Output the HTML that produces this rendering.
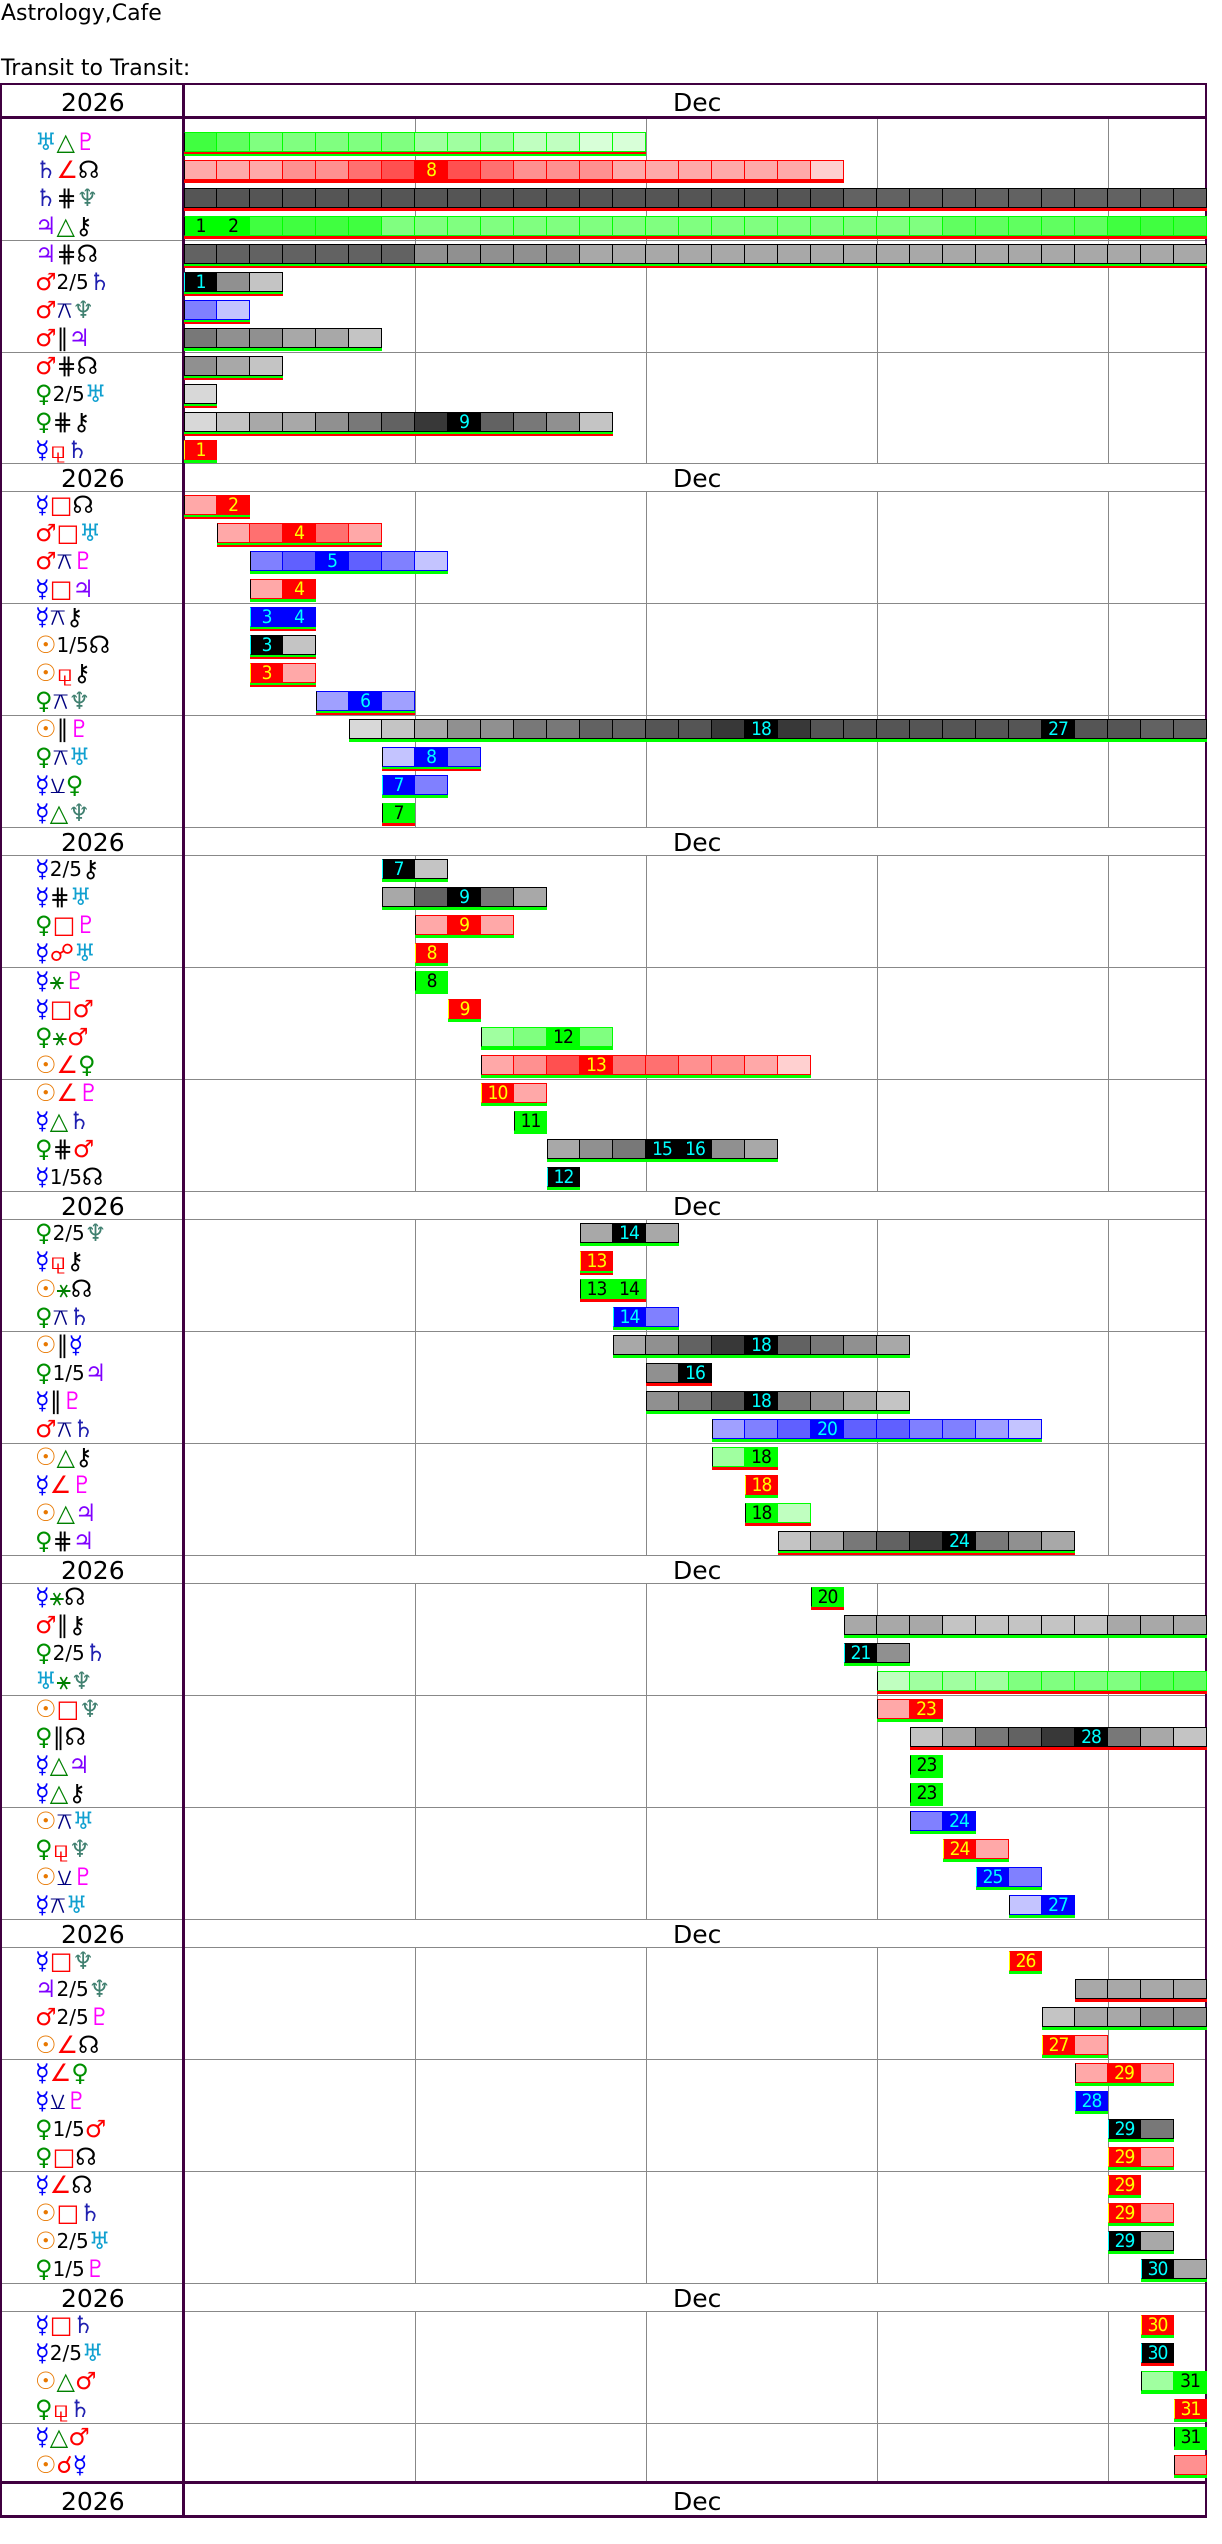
<!DOCTYPE html>
<html><head><meta charset="utf-8">
<style>
*{margin:0;padding:0;box-sizing:border-box}
body{width:1222px;height:2544px;background:#fff;position:relative;overflow:hidden;font-family:"DejaVu Sans","Liberation Sans",sans-serif}
.t{position:absolute;left:1px;font-size:22px;line-height:22px;color:#000;white-space:nowrap}
.hl{position:absolute;left:0;width:1206px;height:1px;background:#888}
.vl{position:absolute;top:117px;height:2365px;width:1px;background:#888}
.pl{position:absolute;background:#400040}
.hd{position:absolute;left:2px;width:1203px;height:27px;background:#fff;font-size:25px;line-height:29px}
.hd .y{position:absolute;left:59px}
.hd .m{position:absolute;left:671px}
.l{position:absolute;left:35px;font-size:20px;line-height:20px;height:20px;white-space:nowrap}
.l span{font-size:24px;line-height:20px;vertical-align:-1px}
.b{position:absolute;height:24px;display:flex;align-items:flex-start}
.b i{font-style:normal;display:block;width:33px;height:20px;border:1px solid;border-left:none;text-align:center;font-family:"DejaVu Sans Condensed","DejaVu Sans",sans-serif;font-size:19px;line-height:18px;letter-spacing:-1px}
.b i:first-child{border-left:1px solid}
.G i{border-color:#0f0}.R i{border-color:#f00}.B i{border-color:#00f}.K i{border-color:#000}
.xg{background:linear-gradient(#0f0,#0f0) 0 20px/100% 3px no-repeat}
.xr{background:linear-gradient(#f00,#f00) 0 20px/100% 3px no-repeat}
.xgr{background:linear-gradient(#0f0,#0f0) 0 20px/100% 2px no-repeat,linear-gradient(#f00,#f00) 0 22px/100% 2px no-repeat}
.xrg{background:linear-gradient(#f00,#f00) 0 20px/100% 2px no-repeat,linear-gradient(#0f0,#0f0) 0 22px/100% 2px no-repeat}
.g0{background:#0f0;color:#000}.g1{background:#40ff40}.g2{background:#60ff60}.g3{background:#80ff80}.g4{background:#a0ffa0}.g5{background:#c0ffc0}.g6{background:#d8ffd8}
.r0{background:#f00;color:#ff0}.r1{background:#ff5050}.r2{background:#ff7070}.r3{background:#ff9090}.r4{background:#ffa8a8}.r5{background:#ffd0d0}
.b0{background:#00f;color:#0ff}.b1{background:#6060ff}.b2{background:#8080ff}.b3{background:#a0a0ff}.b4{background:#c4c4ff}
.k0{background:#000;color:#0ff}.k1{background:#383838}.k2{background:#555}.k3{background:#626262}.k4{background:#787878}.k5{background:#909090}.k6{background:#a8a8a8}.k7{background:#c4c4c4}.k8{background:#d8d8d8}
.su{color:#e87800}.me{color:#00f}.ve{color:#009000}.ma{color:#f00}.ju{color:#8000ff}.sa{color:#2020b0}.ur{color:#10a0d0}.ne{color:#408070}.pu{color:#f0f}.no,.ch,.k{color:#000}
.tr,.sx{color:#008000}.sq,.ss,.op,.cj{color:#f00}.qx,.sm{color:#000080}
</style></head><body>
<div class="t" style="top:3px">Astrology,Cafe</div>
<div class="t" style="top:58px">Transit to Transit:</div>

<div class="vl" style="left:415px"></div><div class="vl" style="left:646px"></div><div class="vl" style="left:877px"></div><div class="vl" style="left:1108px"></div>

<div class="hl" style="top:240px"></div><div class="hl" style="top:352px"></div>
<div class="hl" style="top:463px"></div><div class="hl" style="top:491px"></div><div class="hl" style="top:603px"></div><div class="hl" style="top:715px"></div>
<div class="hl" style="top:827px"></div><div class="hl" style="top:855px"></div><div class="hl" style="top:967px"></div><div class="hl" style="top:1079px"></div>
<div class="hl" style="top:1191px"></div><div class="hl" style="top:1219px"></div><div class="hl" style="top:1331px"></div><div class="hl" style="top:1443px"></div>
<div class="hl" style="top:1555px"></div><div class="hl" style="top:1583px"></div><div class="hl" style="top:1695px"></div><div class="hl" style="top:1807px"></div>
<div class="hl" style="top:1919px"></div><div class="hl" style="top:1947px"></div><div class="hl" style="top:2059px"></div><div class="hl" style="top:2171px"></div>
<div class="hl" style="top:2283px"></div><div class="hl" style="top:2311px"></div><div class="hl" style="top:2423px"></div>

<div class="hd" style="top:85px;height:31px;line-height:36px"><span class="y">2026</span><span class="m">Dec</span></div>
<div class="hd" style="top:464px"><span class="y">2026</span><span class="m">Dec</span></div>
<div class="hd" style="top:828px"><span class="y">2026</span><span class="m">Dec</span></div>
<div class="hd" style="top:1192px"><span class="y">2026</span><span class="m">Dec</span></div>
<div class="hd" style="top:1556px"><span class="y">2026</span><span class="m">Dec</span></div>
<div class="hd" style="top:1920px"><span class="y">2026</span><span class="m">Dec</span></div>
<div class="hd" style="top:2284px"><span class="y">2026</span><span class="m">Dec</span></div>
<div class="hd" style="top:2484px;height:31px;line-height:36px"><span class="y">2026</span><span class="m">Dec</span></div>

<div class="pl" style="left:0;top:83px;width:1207px;height:2px"></div>
<div class="pl" style="left:0;top:116px;width:1207px;height:3px"></div>
<div class="pl" style="left:0;top:2481px;width:1207px;height:3px"></div>
<div class="pl" style="left:0;top:2515px;width:1207px;height:3px"></div>
<div class="pl" style="left:0;top:83px;width:2px;height:2435px"></div>
<div class="pl" style="left:1205px;top:83px;width:2px;height:2435px"></div>
<div class="pl" style="left:182px;top:83px;width:3px;height:2435px"></div>

<div class="l" style="top:132px"><span class="ur">♅</span><span class="tr">△</span><span class="pu">♇</span></div>
<div class="l" style="top:160px"><span class="sa">♄</span><span class="ss">∠</span><span class="no">☊</span></div>
<div class="l" style="top:188px"><span class="sa">♄</span><span class="k">⋕</span><span class="ne">♆</span></div>
<div class="l" style="top:216px"><span class="ju">♃</span><span class="tr">△</span><span class="ch">⚷</span></div>
<div class="l" style="top:244px"><span class="ju">♃</span><span class="k">⋕</span><span class="no">☊</span></div>
<div class="l" style="top:272px"><span class="ma">♂</span>2/5<span class="sa">♄</span></div>
<div class="l" style="top:300px"><span class="ma">♂</span><span class="qx">⚻</span><span class="ne">♆</span></div>
<div class="l" style="top:328px"><span class="ma">♂</span><span class="k">∥</span><span class="ju">♃</span></div>
<div class="l" style="top:356px"><span class="ma">♂</span><span class="k">⋕</span><span class="no">☊</span></div>
<div class="l" style="top:384px"><span class="ve">♀</span>2/5<span class="ur">♅</span></div>
<div class="l" style="top:412px"><span class="ve">♀</span><span class="k">⋕</span><span class="ch">⚷</span></div>
<div class="l" style="top:440px"><span class="me">☿</span><span class="sq">⚼</span><span class="sa">♄</span></div>

<div class="l" style="top:495px"><span class="me">☿</span><span class="sq">□</span><span class="no">☊</span></div>
<div class="l" style="top:523px"><span class="ma">♂</span><span class="sq">□</span><span class="ur">♅</span></div>
<div class="l" style="top:551px"><span class="ma">♂</span><span class="qx">⚻</span><span class="pu">♇</span></div>
<div class="l" style="top:579px"><span class="me">☿</span><span class="sq">□</span><span class="ju">♃</span></div>
<div class="l" style="top:607px"><span class="me">☿</span><span class="qx">⚻</span><span class="ch">⚷</span></div>
<div class="l" style="top:635px"><span class="su">☉</span>1/5<span class="no">☊</span></div>
<div class="l" style="top:663px"><span class="su">☉</span><span class="sq">⚼</span><span class="ch">⚷</span></div>
<div class="l" style="top:691px"><span class="ve">♀</span><span class="qx">⚻</span><span class="ne">♆</span></div>
<div class="l" style="top:719px"><span class="su">☉</span><span class="k">∥</span><span class="pu">♇</span></div>
<div class="l" style="top:747px"><span class="ve">♀</span><span class="qx">⚻</span><span class="ur">♅</span></div>
<div class="l" style="top:775px"><span class="me">☿</span><span class="sm">⚺</span><span class="ve">♀</span></div>
<div class="l" style="top:803px"><span class="me">☿</span><span class="tr">△</span><span class="ne">♆</span></div>

<div class="l" style="top:859px"><span class="me">☿</span>2/5<span class="ch">⚷</span></div>
<div class="l" style="top:887px"><span class="me">☿</span><span class="k">⋕</span><span class="ur">♅</span></div>
<div class="l" style="top:915px"><span class="ve">♀</span><span class="sq">□</span><span class="pu">♇</span></div>
<div class="l" style="top:943px"><span class="me">☿</span><span class="op">☍</span><span class="ur">♅</span></div>
<div class="l" style="top:971px"><span class="me">☿</span><span class="sx">⚹</span><span class="pu">♇</span></div>
<div class="l" style="top:999px"><span class="me">☿</span><span class="sq">□</span><span class="ma">♂</span></div>
<div class="l" style="top:1027px"><span class="ve">♀</span><span class="sx">⚹</span><span class="ma">♂</span></div>
<div class="l" style="top:1055px"><span class="su">☉</span><span class="ss">∠</span><span class="ve">♀</span></div>
<div class="l" style="top:1083px"><span class="su">☉</span><span class="ss">∠</span><span class="pu">♇</span></div>
<div class="l" style="top:1111px"><span class="me">☿</span><span class="tr">△</span><span class="sa">♄</span></div>
<div class="l" style="top:1139px"><span class="ve">♀</span><span class="k">⋕</span><span class="ma">♂</span></div>
<div class="l" style="top:1167px"><span class="me">☿</span>1/5<span class="no">☊</span></div>

<div class="l" style="top:1223px"><span class="ve">♀</span>2/5<span class="ne">♆</span></div>
<div class="l" style="top:1251px"><span class="me">☿</span><span class="sq">⚼</span><span class="ch">⚷</span></div>
<div class="l" style="top:1279px"><span class="su">☉</span><span class="sx">⚹</span><span class="no">☊</span></div>
<div class="l" style="top:1307px"><span class="ve">♀</span><span class="qx">⚻</span><span class="sa">♄</span></div>
<div class="l" style="top:1335px"><span class="su">☉</span><span class="k">∥</span><span class="me">☿</span></div>
<div class="l" style="top:1363px"><span class="ve">♀</span>1/5<span class="ju">♃</span></div>
<div class="l" style="top:1391px"><span class="me">☿</span><span class="k">∥</span><span class="pu">♇</span></div>
<div class="l" style="top:1419px"><span class="ma">♂</span><span class="qx">⚻</span><span class="sa">♄</span></div>
<div class="l" style="top:1447px"><span class="su">☉</span><span class="tr">△</span><span class="ch">⚷</span></div>
<div class="l" style="top:1475px"><span class="me">☿</span><span class="ss">∠</span><span class="pu">♇</span></div>
<div class="l" style="top:1503px"><span class="su">☉</span><span class="tr">△</span><span class="ju">♃</span></div>
<div class="l" style="top:1531px"><span class="ve">♀</span><span class="k">⋕</span><span class="ju">♃</span></div>

<div class="l" style="top:1587px"><span class="me">☿</span><span class="sx">⚹</span><span class="no">☊</span></div>
<div class="l" style="top:1615px"><span class="ma">♂</span><span class="k">∥</span><span class="ch">⚷</span></div>
<div class="l" style="top:1643px"><span class="ve">♀</span>2/5<span class="sa">♄</span></div>
<div class="l" style="top:1671px"><span class="ur">♅</span><span class="sx">⚹</span><span class="ne">♆</span></div>
<div class="l" style="top:1699px"><span class="su">☉</span><span class="sq">□</span><span class="ne">♆</span></div>
<div class="l" style="top:1727px"><span class="ve">♀</span><span class="k">∥</span><span class="no">☊</span></div>
<div class="l" style="top:1755px"><span class="me">☿</span><span class="tr">△</span><span class="ju">♃</span></div>
<div class="l" style="top:1783px"><span class="me">☿</span><span class="tr">△</span><span class="ch">⚷</span></div>
<div class="l" style="top:1811px"><span class="su">☉</span><span class="qx">⚻</span><span class="ur">♅</span></div>
<div class="l" style="top:1839px"><span class="ve">♀</span><span class="sq">⚼</span><span class="ne">♆</span></div>
<div class="l" style="top:1867px"><span class="su">☉</span><span class="sm">⚺</span><span class="pu">♇</span></div>
<div class="l" style="top:1895px"><span class="me">☿</span><span class="qx">⚻</span><span class="ur">♅</span></div>

<div class="l" style="top:1951px"><span class="me">☿</span><span class="sq">□</span><span class="ne">♆</span></div>
<div class="l" style="top:1979px"><span class="ju">♃</span>2/5<span class="ne">♆</span></div>
<div class="l" style="top:2007px"><span class="ma">♂</span>2/5<span class="pu">♇</span></div>
<div class="l" style="top:2035px"><span class="su">☉</span><span class="ss">∠</span><span class="no">☊</span></div>
<div class="l" style="top:2063px"><span class="me">☿</span><span class="ss">∠</span><span class="ve">♀</span></div>
<div class="l" style="top:2091px"><span class="me">☿</span><span class="sm">⚺</span><span class="pu">♇</span></div>
<div class="l" style="top:2119px"><span class="ve">♀</span>1/5<span class="ma">♂</span></div>
<div class="l" style="top:2147px"><span class="ve">♀</span><span class="sq">□</span><span class="no">☊</span></div>
<div class="l" style="top:2175px"><span class="me">☿</span><span class="ss">∠</span><span class="no">☊</span></div>
<div class="l" style="top:2203px"><span class="su">☉</span><span class="sq">□</span><span class="sa">♄</span></div>
<div class="l" style="top:2231px"><span class="su">☉</span>2/5<span class="ur">♅</span></div>
<div class="l" style="top:2259px"><span class="ve">♀</span>1/5<span class="pu">♇</span></div>

<div class="l" style="top:2315px"><span class="me">☿</span><span class="sq">□</span><span class="sa">♄</span></div>
<div class="l" style="top:2343px"><span class="me">☿</span>2/5<span class="ur">♅</span></div>
<div class="l" style="top:2371px"><span class="su">☉</span><span class="tr">△</span><span class="ma">♂</span></div>
<div class="l" style="top:2399px"><span class="ve">♀</span><span class="sq">⚼</span><span class="sa">♄</span></div>
<div class="l" style="top:2427px"><span class="me">☿</span><span class="tr">△</span><span class="ma">♂</span></div>
<div class="l" style="top:2455px"><span class="su">☉</span><span class="cj">☌</span><span class="me">☿</span></div>

<div class="b G xrg" style="left:184px;top:132px"><i class="g1"></i><i class="g2"></i><i class="g3"></i><i class="g3"></i><i class="g3"></i><i class="g3"></i><i class="g3"></i><i class="g4"></i><i class="g4"></i><i class="g4"></i><i class="g5"></i><i class="g5"></i><i class="g6"></i><i class="g6"></i></div>
<div class="b R xr" style="left:184px;top:160px"><i class="r4"></i><i class="r4"></i><i class="r4"></i><i class="r3"></i><i class="r3"></i><i class="r2"></i><i class="r1"></i><i class="r0">8</i><i class="r1"></i><i class="r2"></i><i class="r3"></i><i class="r3"></i><i class="r3"></i><i class="r4"></i><i class="r4"></i><i class="r4"></i><i class="r4"></i><i class="r4"></i><i class="r4"></i><i class="r5"></i></div>
<div class="b K xr" style="left:184px;top:188px"><i class="k2"></i><i class="k2"></i><i class="k2"></i><i class="k2"></i><i class="k2"></i><i class="k2"></i><i class="k2"></i><i class="k2"></i><i class="k2"></i><i class="k2"></i><i class="k2"></i><i class="k2"></i><i class="k2"></i><i class="k2"></i><i class="k2"></i><i class="k2"></i><i class="k2"></i><i class="k2"></i><i class="k2"></i><i class="k2"></i><i class="k3"></i><i class="k3"></i><i class="k3"></i><i class="k3"></i><i class="k3"></i><i class="k3"></i><i class="k3"></i><i class="k3"></i><i class="k3"></i><i class="k3"></i><i class="k3"></i></div>
<div class="b G xr" style="left:184px;top:216px"><i class="g0">1</i><i class="g0">2</i><i class="g1"></i><i class="g1"></i><i class="g1"></i><i class="g1"></i><i class="g3"></i><i class="g3"></i><i class="g3"></i><i class="g3"></i><i class="g3"></i><i class="g3"></i><i class="g3"></i><i class="g3"></i><i class="g3"></i><i class="g3"></i><i class="g3"></i><i class="g3"></i><i class="g3"></i><i class="g3"></i><i class="g3"></i><i class="g3"></i><i class="g3"></i><i class="g2"></i><i class="g2"></i><i class="g2"></i><i class="g2"></i><i class="g2"></i><i class="g1"></i><i class="g1"></i><i class="g1"></i></div>
<div class="b K xgr" style="left:184px;top:244px"><i class="k3"></i><i class="k3"></i><i class="k3"></i><i class="k3"></i><i class="k3"></i><i class="k3"></i><i class="k3"></i><i class="k5"></i><i class="k5"></i><i class="k5"></i><i class="k5"></i><i class="k5"></i><i class="k6"></i><i class="k6"></i><i class="k6"></i><i class="k6"></i><i class="k6"></i><i class="k6"></i><i class="k6"></i><i class="k6"></i><i class="k6"></i><i class="k6"></i><i class="k6"></i><i class="k6"></i><i class="k6"></i><i class="k6"></i><i class="k6"></i><i class="k6"></i><i class="k6"></i><i class="k6"></i><i class="k6"></i></div>
<div class="b K xgr" style="left:184px;top:272px"><i class="k0">1</i><i class="k5"></i><i class="k7"></i></div>
<div class="b B xgr" style="left:184px;top:300px"><i class="b2"></i><i class="b4"></i></div>
<div class="b K xg" style="left:184px;top:328px"><i class="k4"></i><i class="k5"></i><i class="k5"></i><i class="k6"></i><i class="k6"></i><i class="k7"></i></div>
<div class="b K xgr" style="left:184px;top:356px"><i class="k5"></i><i class="k6"></i><i class="k7"></i></div>
<div class="b K xgr" style="left:184px;top:384px"><i class="k8"></i></div>
<div class="b K xgr" style="left:184px;top:412px"><i class="k8"></i><i class="k7"></i><i class="k6"></i><i class="k6"></i><i class="k5"></i><i class="k4"></i><i class="k3"></i><i class="k1"></i><i class="k0">9</i><i class="k3"></i><i class="k4"></i><i class="k5"></i><i class="k7"></i></div>
<div class="b R xg" style="left:184px;top:440px"><i class="r0">1</i></div>

<div class="b R xgr" style="left:184px;top:495px"><i class="r4"></i><i class="r0">2</i></div>
<div class="b R xgr" style="left:217px;top:523px"><i class="r4"></i><i class="r2"></i><i class="r0">4</i><i class="r2"></i><i class="r4"></i></div>
<div class="b B xg" style="left:250px;top:551px"><i class="b2"></i><i class="b1"></i><i class="b0">5</i><i class="b1"></i><i class="b2"></i><i class="b4"></i></div>
<div class="b R xg" style="left:250px;top:579px"><i class="r4"></i><i class="r0">4</i></div>
<div class="b B xgr" style="left:250px;top:607px"><i class="b0">3</i><i class="b0">4</i></div>
<div class="b K xgr" style="left:250px;top:635px"><i class="k0">3</i><i class="k7"></i></div>
<div class="b R xgr" style="left:250px;top:663px"><i class="r0">3</i><i class="r4"></i></div>
<div class="b B xgr" style="left:316px;top:691px"><i class="b3"></i><i class="b0">6</i><i class="b3"></i></div>
<div class="b K xg" style="left:349px;top:719px"><i class="k8"></i><i class="k7"></i><i class="k6"></i><i class="k5"></i><i class="k5"></i><i class="k4"></i><i class="k4"></i><i class="k3"></i><i class="k3"></i><i class="k2"></i><i class="k2"></i><i class="k1"></i><i class="k0">18</i><i class="k1"></i><i class="k2"></i><i class="k2"></i><i class="k2"></i><i class="k2"></i><i class="k2"></i><i class="k2"></i><i class="k2"></i><i class="k0">27</i><i class="k2"></i><i class="k2"></i><i class="k3"></i><i class="k3"></i></div>
<div class="b B xgr" style="left:382px;top:747px"><i class="b4"></i><i class="b0">8</i><i class="b2"></i></div>
<div class="b B xg" style="left:382px;top:775px"><i class="b0">7</i><i class="b2"></i></div>
<div class="b G xr" style="left:382px;top:803px"><i class="g0">7</i></div>

<div class="b K xg" style="left:382px;top:859px"><i class="k0">7</i><i class="k7"></i></div>
<div class="b K xg" style="left:382px;top:887px"><i class="k6"></i><i class="k3"></i><i class="k0">9</i><i class="k4"></i><i class="k6"></i></div>
<div class="b R xg" style="left:415px;top:915px"><i class="r4"></i><i class="r0">9</i><i class="r4"></i></div>
<div class="b R xg" style="left:415px;top:943px"><i class="r0">8</i></div>
<div class="b G xg" style="left:415px;top:971px"><i class="g0">8</i></div>
<div class="b R xg" style="left:448px;top:999px"><i class="r0">9</i></div>
<div class="b G xg" style="left:481px;top:1027px"><i class="g4"></i><i class="g3"></i><i class="g0">12</i><i class="g3"></i></div>
<div class="b R xg" style="left:481px;top:1055px"><i class="r4"></i><i class="r3"></i><i class="r1"></i><i class="r0">13</i><i class="r2"></i><i class="r2"></i><i class="r3"></i><i class="r3"></i><i class="r4"></i><i class="r5"></i></div>
<div class="b R xg" style="left:481px;top:1083px"><i class="r0">10</i><i class="r4"></i></div>
<div class="b G xg" style="left:514px;top:1111px"><i class="g0">11</i></div>
<div class="b K xg" style="left:547px;top:1139px"><i class="k6"></i><i class="k5"></i><i class="k4"></i><i class="k0">15</i><i class="k0">16</i><i class="k5"></i><i class="k6"></i></div>
<div class="b K xg" style="left:547px;top:1167px"><i class="k0">12</i></div>

<div class="b K xg" style="left:580px;top:1223px"><i class="k6"></i><i class="k0">14</i><i class="k6"></i></div>
<div class="b R xgr" style="left:580px;top:1251px"><i class="r0">13</i></div>
<div class="b G xr" style="left:580px;top:1279px"><i class="g0">13</i><i class="g0">14</i></div>
<div class="b B xg" style="left:613px;top:1307px"><i class="b0">14</i><i class="b2"></i></div>
<div class="b K xg" style="left:613px;top:1335px"><i class="k6"></i><i class="k5"></i><i class="k3"></i><i class="k1"></i><i class="k0">18</i><i class="k3"></i><i class="k4"></i><i class="k5"></i><i class="k6"></i></div>
<div class="b K xr" style="left:646px;top:1363px"><i class="k5"></i><i class="k0">16</i></div>
<div class="b K xg" style="left:646px;top:1391px"><i class="k5"></i><i class="k4"></i><i class="k2"></i><i class="k0">18</i><i class="k4"></i><i class="k5"></i><i class="k6"></i><i class="k7"></i></div>
<div class="b B xg" style="left:712px;top:1419px"><i class="b3"></i><i class="b2"></i><i class="b1"></i><i class="b0">20</i><i class="b1"></i><i class="b1"></i><i class="b2"></i><i class="b2"></i><i class="b3"></i><i class="b4"></i></div>
<div class="b G xr" style="left:712px;top:1447px"><i class="g4"></i><i class="g0">18</i></div>
<div class="b R xg" style="left:745px;top:1475px"><i class="r0">18</i></div>
<div class="b G xr" style="left:745px;top:1503px"><i class="g0">18</i><i class="g5"></i></div>
<div class="b K xgr" style="left:778px;top:1531px"><i class="k7"></i><i class="k6"></i><i class="k4"></i><i class="k3"></i><i class="k1"></i><i class="k0">24</i><i class="k4"></i><i class="k5"></i><i class="k6"></i></div>

<div class="b G xr" style="left:811px;top:1587px"><i class="g0">20</i></div>
<div class="b K xg" style="left:844px;top:1615px"><i class="k6"></i><i class="k6"></i><i class="k6"></i><i class="k7"></i><i class="k7"></i><i class="k7"></i><i class="k7"></i><i class="k7"></i><i class="k6"></i><i class="k6"></i><i class="k6"></i></div>
<div class="b K xg" style="left:844px;top:1643px"><i class="k0">21</i><i class="k5"></i></div>
<div class="b G xr" style="left:877px;top:1671px"><i class="g5"></i><i class="g4"></i><i class="g4"></i><i class="g4"></i><i class="g3"></i><i class="g3"></i><i class="g3"></i><i class="g3"></i><i class="g2"></i><i class="g2"></i></div>
<div class="b R xg" style="left:877px;top:1699px"><i class="r4"></i><i class="r0">23</i></div>
<div class="b K xr" style="left:910px;top:1727px"><i class="k7"></i><i class="k6"></i><i class="k4"></i><i class="k3"></i><i class="k1"></i><i class="k0">28</i><i class="k4"></i><i class="k6"></i><i class="k7"></i></div>
<div class="b G xg" style="left:910px;top:1755px"><i class="g0">23</i></div>
<div class="b G xg" style="left:910px;top:1783px"><i class="g0">23</i></div>
<div class="b B xg" style="left:910px;top:1811px"><i class="b2"></i><i class="b0">24</i></div>
<div class="b R xg" style="left:943px;top:1839px"><i class="r0">24</i><i class="r4"></i></div>
<div class="b B xg" style="left:976px;top:1867px"><i class="b0">25</i><i class="b2"></i></div>
<div class="b B xg" style="left:1009px;top:1895px"><i class="b4"></i><i class="b0">27</i></div>

<div class="b R xg" style="left:1009px;top:1951px"><i class="r0">26</i></div>
<div class="b K xr" style="left:1075px;top:1979px"><i class="k6"></i><i class="k6"></i><i class="k6"></i><i class="k6"></i></div>
<div class="b K xg" style="left:1042px;top:2007px"><i class="k7"></i><i class="k6"></i><i class="k6"></i><i class="k5"></i><i class="k5"></i></div>
<div class="b R xg" style="left:1042px;top:2035px"><i class="r0">27</i><i class="r4"></i></div>
<div class="b R xg" style="left:1075px;top:2063px"><i class="r4"></i><i class="r0">29</i><i class="r4"></i></div>
<div class="b B xg" style="left:1075px;top:2091px"><i class="b0">28</i></div>
<div class="b K xg" style="left:1108px;top:2119px"><i class="k0">29</i><i class="k4"></i></div>
<div class="b R xg" style="left:1108px;top:2147px"><i class="r0">29</i><i class="r4"></i></div>
<div class="b R xg" style="left:1108px;top:2175px"><i class="r0">29</i></div>
<div class="b R xg" style="left:1108px;top:2203px"><i class="r0">29</i><i class="r4"></i></div>
<div class="b K xg" style="left:1108px;top:2231px"><i class="k0">29</i><i class="k6"></i></div>
<div class="b K xg" style="left:1141px;top:2259px"><i class="k0">30</i><i class="k6"></i></div>

<div class="b R xg" style="left:1141px;top:2315px"><i class="r0">30</i></div>
<div class="b K xr" style="left:1141px;top:2343px"><i class="k0">30</i></div>
<div class="b G xg" style="left:1141px;top:2371px"><i class="g4"></i><i class="g0">31</i></div>
<div class="b R xg" style="left:1174px;top:2399px"><i class="r0">31</i></div>
<div class="b G xg" style="left:1174px;top:2427px"><i class="g0">31</i></div>
<div class="b R xg" style="left:1174px;top:2455px"><i class="r3"></i></div>
</body></html>
